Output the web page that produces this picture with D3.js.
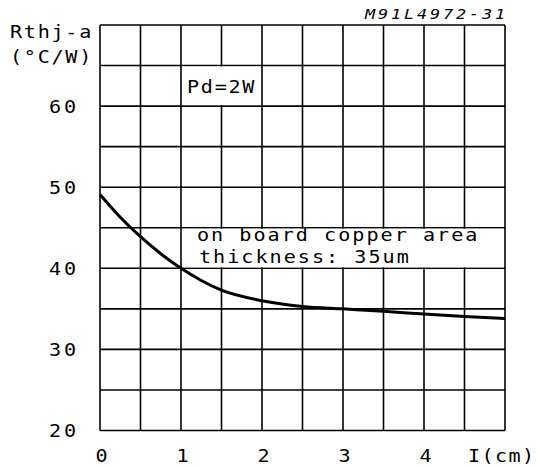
<!DOCTYPE html>
<html>
<head>
<meta charset="utf-8">
<script src="https://cdn.jsdelivr.net/npm/d3@7"></script>
<style>
  html, body { margin: 0; padding: 0; background: #fff; }
  svg { display: block; }
  text { font-family: "DejaVu Sans Mono", "Liberation Mono", monospace; fill: #000; }
</style>
</head>
<body>
<svg id="chart" width="536" height="468"></svg>
<script>
// ---- data ----
const areaCm = [0, 0.25, 0.5, 0.75, 1, 1.25, 1.5, 2, 2.5, 3, 3.5, 4, 4.5, 5];
const rthValues = [49.1, 46.3, 43.9, 41.8, 40.0, 38.5, 37.3, 36.0, 35.3, 35.0, 34.7, 34.35, 34.05, 33.8];
const xTickLabels = ["0", "1", "2", "3", "4"];
const xTickValues = [0, 1, 2, 3, 4];
const yTickValues = [20, 30, 40, 50, 60];
const xGrid = [0, 0.5, 1, 1.5, 2, 2.5, 3, 3.5, 4, 4.5, 5];
const yGrid = [20, 25, 30, 35, 40, 45, 50, 55, 60, 65, 70];
const yTitle = ["Rthj-a", "(°C/W)"];
const xTitle = "I(cm)";
const codeLabel = "M91L4972-31";
const noteA = ["Pd=2W"];
const noteB = ["on board copper area", "thickness: 35um"];

// ---- layout ----
const svg = d3.select("#chart");
const plotL = 100, plotR = 505, plotT = 25, plotB = 430.5;
const x = d3.scaleLinear().domain([0, 5]).range([plotL, plotR]);
const y = d3.scaleLinear().domain([20, 70]).range([plotB, plotT]);
const SX = 1.15;   // horizontal stretch of the lettering
const FS = 17.5;

function stretch(sel, fx, fy, sx) {
  sel.attr("transform", (d, i) => `translate(${fx(d, i)},${fy(d, i)}) scale(${sx},1)`);
}

// grid
const g = svg.append("g");
g.selectAll("line.v").data(xGrid).join("line")
  .attr("x1", d => x(d)).attr("x2", d => x(d))
  .attr("y1", y(70)).attr("y2", y(20))
  .attr("stroke", "#000").attr("stroke-width", 1.6);
g.selectAll("line.h").data(yGrid).join("line")
  .attr("y1", d => y(d)).attr("y2", d => y(d))
  .attr("x1", x(0)).attr("x2", x(5))
  .attr("stroke", "#000").attr("stroke-width", 1.6);

// label boxes (white, hiding inner grid lines)
svg.append("rect")
  .attr("x", x(1) + 1).attr("y", y(65) + 1)
  .attr("width", x(2) - x(1) - 2).attr("height", y(60) - y(65) - 2)
  .attr("fill", "#fff");
svg.append("rect")
  .attr("x", x(1) + 1).attr("y", y(45) + 1)
  .attr("width", x(5) - x(1) - 2).attr("height", y(40) - y(45) - 2)
  .attr("fill", "#fff");

// curve
const line = d3.line()
  .x((d, i) => x(areaCm[i]))
  .y(d => y(d))
  .curve(d3.curveMonotoneX);
svg.append("path")
  .datum(rthValues)
  .attr("d", line)
  .attr("fill", "none")
  .attr("stroke", "#000")
  .attr("stroke-width", 3);

// y tick labels
svg.selectAll("text.yt").data(yTickValues).join("text")
  .attr("font-size", FS).attr("letter-spacing", 2.5)
  .call(stretch, () => 49, d => y(d) + 6.5, SX)
  .text(d => d);

// x tick labels
svg.selectAll("text.xt").data(xTickValues).join("text")
  .attr("text-anchor", "middle")
  .attr("font-size", FS)
  .call(stretch, d => x(d) + 1.5, () => 461.5, SX)
  .text((d, i) => xTickLabels[i]);

// axis titles
svg.append("text").datum(xTitle)
  .attr("font-size", FS).attr("letter-spacing", 1.2)
  .call(stretch, () => 468, () => 461.5, SX)
  .text(d => d);
svg.selectAll("text.ytitle").data(yTitle).join("text")
  .attr("font-size", FS).attr("letter-spacing", 1.5)
  .call(stretch, () => 10, (d, i) => 38 + i * 25, SX)
  .text(d => d);

// code label
svg.append("text").datum(codeLabel)
  .attr("font-size", 14).attr("font-style", "italic")
  .attr("letter-spacing", 2.4)
  .call(stretch, () => 365, () => 19, 1.2)
  .text(d => d);

// notes
svg.selectAll("text.na").data(noteA).join("text")
  .attr("font-size", FS).attr("letter-spacing", 1.5)
  .call(stretch, () => 187, () => 93, SX)
  .text(d => d);
svg.selectAll("text.nb").data(noteB).join("text")
  .attr("font-size", FS).attr("letter-spacing", 1.75)
  .call(stretch, (d, i) => i === 0 ? 197 : 199, (d, i) => 241 + i * 22, SX)
  .text(d => d);
</script>
</body>
</html>
